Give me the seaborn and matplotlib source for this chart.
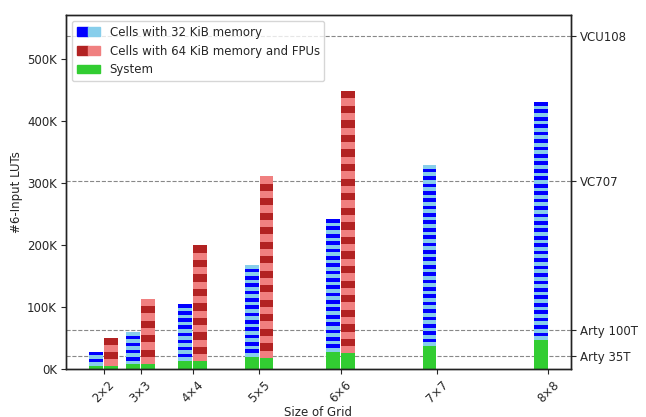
import numpy as np
import matplotlib
matplotlib.use("Agg")
import matplotlib.pyplot as plt
from matplotlib.patches import Patch
from matplotlib.legend_handler import HandlerTuple
from matplotlib.ticker import FuncFormatter
import seaborn as sns

# ---- data ----
grid_n = [2, 3, 4, 5, 6, 7, 8]
grid_labels = ["2×2", "3×3", "4×4", "5×5", "6×6", "7×7", "8×8"]
system_32 = [4800, 8000, 13000, 19800, 28000, 37000, 46800]
cell_32 = [5780, 5740, 5740, 5920, 5940, 5960, 6000]
system_64 = [4500, 8000, 12500, 18200, 25300, None, None]
cell_64 = [11550, 11660, 11690, 11710, 11750, None, None]
device_names = ["Arty 35T", "Arty 100T", "VC707", "VCU108"]
device_luts = [20800, 63400, 303600, 537600]

sns.set_theme(style="ticks", rc={
    "xtick.major.size": 3.5, "ytick.major.size": 3.5,
    "xtick.major.pad": 3.0, "ytick.major.pad": 3.0,
    "xtick.major.width": 0.8, "ytick.major.width": 0.8,
    "axes.linewidth": 1.0, "axes.labelpad": 3.0,
})
plt.rcParams["font.family"] = ["DejaVu Sans"]
fs = 8.5

fig = plt.figure(figsize=(6.46, 4.17), dpi=100)
ax = fig.add_axes([0.102, 0.115, 0.782, 0.849])

c_sys = "#32cd32"
c32 = ("#0000ff", "#87ceeb")
c64 = ("#b22222", "#f08080")
w = 1.85

for n, s32, k32, s64, k64 in zip(grid_n, system_32, cell_32, system_64, cell_64):
    x = n * n
    for sys_v, cell_v, cols, off in ((s32, k32, c32, -1), (s64, k64, c64, 1)):
        if sys_v is None:
            continue
        xc = x + off
        ax.bar(xc, sys_v, width=w, color=c_sys, linewidth=0, antialiased=False)
        bottom = sys_v
        for i in range(x):
            ax.bar(xc, cell_v, width=w, bottom=bottom, color=cols[1 - i % 2],
                   linewidth=0, antialiased=False)
            bottom += cell_v

for v in device_luts:
    ax.axhline(v, color="#888888", linestyle="--", linewidth=0.8, zorder=0)

ax.set_xlim(-1.1, 67.1)
ax.set_ylim(0, 571000)
ax.set_xticks([n * n for n in grid_n])
ax.set_xticklabels(grid_labels, rotation=45, fontsize=fs)
ax.set_yticks([0, 100000, 200000, 300000, 400000, 500000])
ax.yaxis.set_major_formatter(FuncFormatter(lambda v, p: f"{v/1000:.0f}K"))
ax.tick_params(axis="y", labelsize=fs)
ax.set_xlabel("Size of Grid", fontsize=fs, labelpad=1)
ax.set_ylabel("#6-Input LUTs", fontsize=fs)
for sp in ax.spines.values():
    sp.set_visible(True)
    sp.set_color("#222222")

ax2 = ax.twinx()
ax2.set_ylim(ax.get_ylim())
ax2.set_yticks(device_luts)
ax2.set_yticklabels(device_names, fontsize=fs)
for sp in ax2.spines.values():
    sp.set_visible(True)
    sp.set_color("#222222")

handles = [(Patch(color=c32[0]), Patch(color=c32[1])),
           (Patch(color=c64[0]), Patch(color=c64[1])),
           Patch(color=c_sys)]
labels = ["Cells with 32 KiB memory", "Cells with 64 KiB memory and FPUs", "System"]
ax.legend(handles, labels, loc="upper left", fontsize=fs,
          handler_map={tuple: HandlerTuple(ndivide=None, pad=0)}, frameon=True,
          borderaxespad=0.5)

fig.savefig("out.png", dpi=100)
